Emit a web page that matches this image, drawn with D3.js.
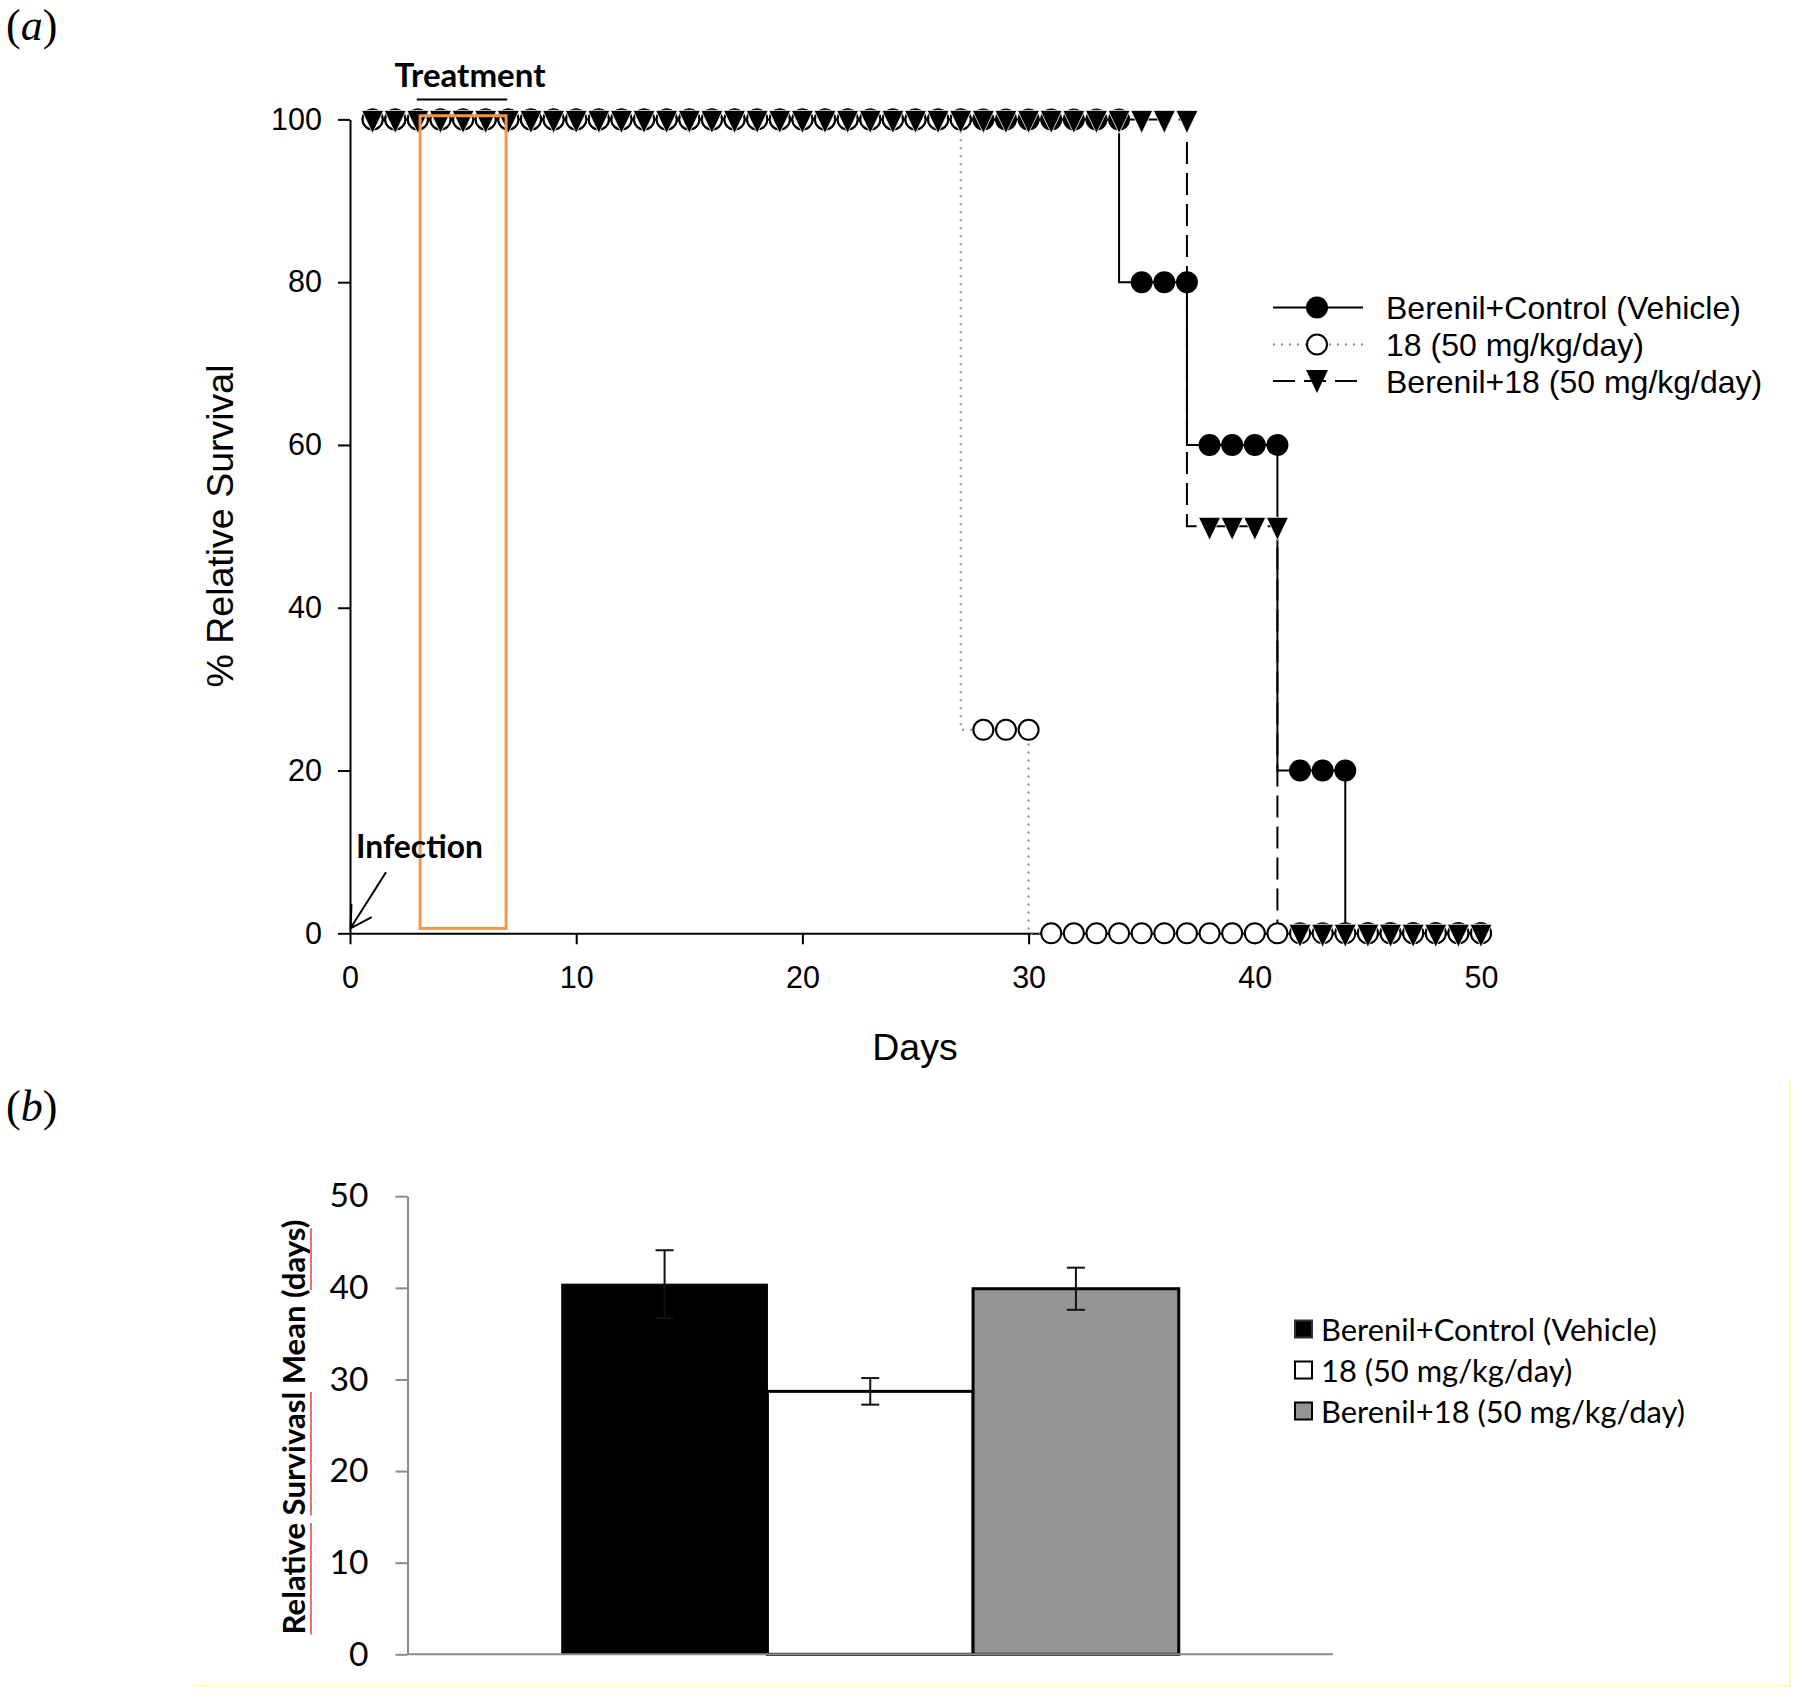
<!DOCTYPE html>
<html>
<head>
<meta charset="utf-8">
<script src="https://cdn.jsdelivr.net/npm/d3@7"></script>
<style>
  html, body { margin: 0; padding: 0; background: #ffffff; }
  svg { display: block; }
</style>
</head>
<body>
<svg id="chart" width="1800" height="1693"></svg>
<script>
// ---------------- DATA ----------------
const days = [1,2,3,4,5,6,7,8,9,10,11,12,13,14,15,16,17,18,19,20,21,22,23,24,25,
              26,27,28,29,30,31,32,33,34,35,36,37,38,39,40,41,42,43,44,45,46,47,48,49,50];

const seriesNames = ["Berenil+Control (Vehicle)", "18 (50 mg/kg/day)", "Berenil+18 (50 mg/kg/day)"];

// % relative survival at each day (panel a)
const vehicleSurvival = [100,100,100,100,100,100,100,100,100,100,100,100,100,100,100,100,100,100,100,100,
                         100,100,100,100,100,100,100,100,100,100,100,100,100,100,80,80,80,60,60,60,
                         60,20,20,20,0,0,0,0,0,0];
const cmpd18Survival  = [100,100,100,100,100,100,100,100,100,100,100,100,100,100,100,100,100,100,100,100,
                         100,100,100,100,100,100,100,25,25,25,0,0,0,0,0,0,0,0,0,0,
                         0,0,0,0,0,0,0,0,0,0];
const comboSurvival   = [100,100,100,100,100,100,100,100,100,100,100,100,100,100,100,100,100,100,100,100,
                         100,100,100,100,100,100,100,100,100,100,100,100,100,100,100,100,100,50,50,50,
                         50,0,0,0,0,0,0,0,0,0];

const survivalTicksX = [0, 10, 20, 30, 40, 50];
const survivalTicksY = [0, 20, 40, 60, 80, 100];
const treatmentWindow = [3.1, 6.9];   // days covered by the orange box

// panel b
const barGroups = seriesNames;
const barMeans  = [40.4, 28.7, 39.9];
const barErrors = [3.7, 1.45, 2.3];
const barTicksY = [0, 10, 20, 30, 40, 50];

// ---------------- CHART ----------------
const svg = d3.select("#chart");
const ARIAL = "'Liberation Sans', Arial, sans-serif";
const CALI = "Lato, 'Open Sans', sans-serif";
const SERIF = "'Liberation Serif', 'Times New Roman', serif";

function fitWidth(sel, target) {
  const w = sel.node().getComputedTextLength();
  const fs = parseFloat(sel.attr("font-size"));
  sel.attr("font-size", fs * target / w);
  return fs * target / w;
}

function panelLabel(letter, px, py) {
  const t = svg.append("text").attr("x", px).attr("y", py)
    .attr("font-family", SERIF).attr("font-size", 44).attr("fill", "#000");
  t.append("tspan").text("(");
  t.append("tspan").attr("font-style", "italic").text(letter);
  t.append("tspan").text(")");
}
panelLabel("a", 6, 40);
panelLabel("b", 6, 1121);

// ===== Panel (a) =====
const A = { left: 350, right: 1481, top: 119.4, bottom: 933.3 };
const x = d3.scaleLinear().domain([0, 50]).range([A.left, A.right]);
const y = d3.scaleLinear().domain([0, 100]).range([A.bottom, A.top]);
const gA = svg.append("g");

const gyA = gA.append("g").attr("transform", `translate(${A.left},0)`)
  .call(d3.axisLeft(y).tickValues(survivalTicksY).tickSize(12).tickSizeOuter(0).tickPadding(16));
const gxA = gA.append("g").attr("transform", `translate(0,${A.bottom})`)
  .call(d3.axisBottom(x).tickValues(survivalTicksX).tickSize(11).tickSizeOuter(0).tickPadding(22));
[gxA, gyA].forEach(g => {
  g.select(".domain").attr("stroke", "#000").attr("stroke-width", 2);
  g.selectAll(".tick line").attr("stroke", "#000").attr("stroke-width", 2);
  g.selectAll(".tick text").attr("font-family", ARIAL).attr("font-size", 30.5).attr("fill", "#000");
});

gA.append("text").attr("x", 915).attr("y", 1060).attr("text-anchor", "middle")
  .attr("font-family", ARIAL).attr("font-size", 37.5).attr("fill", "#000").text("Days");
gA.append("text").attr("transform", "translate(233,526) rotate(-90)").attr("text-anchor", "middle")
  .attr("font-family", ARIAL).attr("font-size", 37.5).attr("fill", "#000").text("% Relative Survival");

const series = [
  { name: seriesNames[0], values: vehicleSurvival, stroke: "#000", dash: null, width: 2 },
  { name: seriesNames[1], values: cmpd18Survival, stroke: "#8a8a8a", dash: "2,6", width: 2 },
  { name: seriesNames[2], values: comboSurvival, stroke: "#000", dash: "22,9", width: 2 }
];
const stepLine = d3.line().x(d => x(d[0])).y(d => y(d[1])).curve(d3.curveStepBefore);

// lines: dotted, dashed, solid
[1, 2, 0].forEach(i => {
  const s = series[i];
  gA.append("path")
    .attr("d", stepLine(days.map((d, k) => [d, s.values[k]])))
    .attr("fill", "none").attr("stroke", s.stroke).attr("stroke-width", s.width)
    .attr("stroke-dasharray", s.dash);
});

const triPath = "M-11,-9L11,-9L0,14Z";
const R = 11;
// filled circles
gA.append("g").selectAll("circle").data(days).join("circle")
  .attr("cx", d => x(d)).attr("cy", (d, k) => y(vehicleSurvival[k])).attr("r", R)
  .attr("fill", "#000");
// open circles
gA.append("g").selectAll("circle").data(days).join("circle")
  .attr("cx", d => x(d)).attr("cy", (d, k) => y(cmpd18Survival[k])).attr("r", R - 1)
  .attr("fill", "#fff").attr("stroke", "#000").attr("stroke-width", 2);
// triangles
gA.append("g").selectAll("path").data(days).join("path")
  .attr("transform", (d, k) => `translate(${x(d)},${y(comboSurvival[k])})`)
  .attr("d", triPath).attr("fill", "#000").attr("stroke", "#fff").attr("stroke-width", 0.8);

// treatment box
gA.append("rect")
  .attr("x", x(treatmentWindow[0])).attr("y", y(100.45))
  .attr("width", x(treatmentWindow[1]) - x(treatmentWindow[0]))
  .attr("height", y(0.6) - y(100.45))
  .attr("fill", "none").attr("stroke", "#F79646").attr("stroke-width", 3);

// treatment label
gA.append("line").attr("x1", x(2.95)).attr("x2", x(6.95)).attr("y1", A.top - 20).attr("y2", A.top - 20)
  .attr("stroke", "#000").attr("stroke-width", 2);
const tTreat = gA.append("text").attr("x", 470).attr("y", 87).attr("text-anchor", "middle")
  .attr("font-family", CALI).attr("font-weight", "bold").attr("font-size", 32).attr("fill", "#000")
  .text("Treatment");
fitWidth(tTreat, 151);

// infection label + arrow
const tInf = gA.append("text").attr("x", 356).attr("y", 858)
  .attr("font-family", CALI).attr("font-weight", "bold").attr("font-size", 32).attr("fill", "#000")
  .text("Infection");
fitWidth(tInf, 127);
{
  const tip = [x(0) + 0.5, A.bottom - 5];
  const tail = [x(0) + 36, A.bottom - 61];
  const ang = Math.atan2(tail[1] - tip[1], tail[0] - tip[0]);
  const L = 24, spread = Math.PI / 6;
  const w1 = [tip[0] + L * Math.cos(ang - spread), tip[1] + L * Math.sin(ang - spread)];
  const w2 = [tip[0] + L * Math.cos(ang + spread), tip[1] + L * Math.sin(ang + spread)];
  gA.append("path")
    .attr("d", `M${tail}L${tip}M${w1}L${tip}L${w2}`)
    .attr("fill", "none").attr("stroke", "#000").attr("stroke-width", 2);
}

// legend (a)
const legA = gA.append("g");
const legRowsA = [307.5, 344.5, 381];
series.forEach((s, i) => {
  const ry = legRowsA[i];
  legA.append("line").attr("x1", 1273).attr("x2", 1363).attr("y1", ry).attr("y2", ry)
    .attr("stroke", s.stroke).attr("stroke-width", s.width).attr("stroke-dasharray", s.dash);
  if (i === 0) legA.append("circle").attr("cx", 1317).attr("cy", ry).attr("r", R).attr("fill", "#000");
  if (i === 1) legA.append("circle").attr("cx", 1317).attr("cy", ry).attr("r", R - 1)
    .attr("fill", "#fff").attr("stroke", "#000").attr("stroke-width", 2);
  if (i === 2) legA.append("path").attr("transform", `translate(1317,${ry - 2})`).attr("d", triPath)
    .attr("fill", "#000");
  legA.append("text").attr("x", 1386).attr("y", ry + 11.5)
    .attr("font-family", ARIAL).attr("font-size", 32).attr("fill", "#000").text(s.name);
});

// ===== Panel (b) =====
const B = { left: 407.5, right: 1333, top: 1196.2, bottom: 1654.3 };
const yb = d3.scaleLinear().domain([0, 50]).range([B.bottom, B.top]);
const xOuter = d3.scaleBand().domain(["all"]).range([B.left, B.right]).paddingInner(0).paddingOuter(0.25);
const xb = d3.scaleBand().domain(barGroups)
  .range([xOuter("all"), xOuter("all") + xOuter.bandwidth()]).padding(0);
const barFill = ["#000000", "#ffffff", "#959595"];
const gB = svg.append("g");

const gyB = gB.append("g").attr("transform", `translate(${B.left},0)`)
  .call(d3.axisLeft(yb).tickValues(barTicksY).tickSize(12).tickSizeOuter(0).tickPadding(27));
gyB.select(".domain").attr("stroke", "#8a8a8a").attr("stroke-width", 2);
gyB.selectAll(".tick line").attr("stroke", "#8a8a8a").attr("stroke-width", 2);
const tickTexts = gyB.selectAll(".tick text").attr("font-family", CALI).attr("font-size", 34).attr("fill", "#000");
{
  const t50 = tickTexts.filter(d => d === 50);
  const fs = fitWidth(t50, 39);
  tickTexts.attr("font-size", fs);
}

// bars
gB.append("g").selectAll("rect").data(barGroups).join("rect")
  .attr("x", d => xb(d)).attr("y", (d, i) => yb(barMeans[i]))
  .attr("width", xb.bandwidth()).attr("height", (d, i) => yb(0) - yb(barMeans[i]))
  .attr("fill", (d, i) => barFill[i]).attr("stroke", "#000").attr("stroke-width", (d, i) => i === 0 ? 1 : 3);

// x axis line
gB.append("line").attr("x1", B.left).attr("x2", B.right).attr("y1", B.bottom).attr("y2", B.bottom)
  .attr("stroke", "#8a8a8a").attr("stroke-width", 2);

// error bars
const eb = gB.append("g").attr("stroke", "#111").attr("stroke-width", 2);
barGroups.forEach((g, i) => {
  const cx = xb(g) + xb.bandwidth() / 2;
  const y1 = yb(barMeans[i] + barErrors[i]), y2 = yb(barMeans[i] - barErrors[i]);
  eb.append("line").attr("x1", cx).attr("x2", cx).attr("y1", y1).attr("y2", y2);
  eb.append("line").attr("x1", cx - 9).attr("x2", cx + 9).attr("y1", y1).attr("y2", y1);
  eb.append("line").attr("x1", cx - 9).attr("x2", cx + 9).attr("y1", y2).attr("y2", y2);
});

// y title with spell-check underlines
{
  const gt = gB.append("g").attr("transform", "translate(305,1427) rotate(-90)");
  const title = gt.append("text").attr("x", 0).attr("y", 0).attr("text-anchor", "middle")
    .attr("font-family", CALI).attr("font-weight", "bold").attr("font-size", 32).attr("fill", "#000")
    .text("Relative Survivasl Mean (days)");
  fitWidth(title, 415);
  const node = title.node();
  [[0, 7], [9, 17], [25, 28]].forEach(([a, b]) => {
    const x1 = node.getStartPositionOfChar(a).x;
    const x2 = node.getEndPositionOfChar(b).x;
    gt.append("line").attr("x1", x1).attr("x2", x2).attr("y1", 6).attr("y2", 6)
      .attr("stroke", "#f07070").attr("stroke-width", 2);
  });
}

// legend (b)
{
  const rows = [1329, 1370, 1411];
  const leg = gB.append("g");
  let fs = 33;
  barGroups.forEach((g, i) => {
    leg.append("rect").attr("x", 1295).attr("y", rows[i] - 8.5).attr("width", 17).attr("height", 17)
      .attr("fill", barFill[i]).attr("stroke", i === 0 ? "#333" : "#000").attr("stroke-width", 2);
    const t = leg.append("text").attr("x", 1321).attr("y", rows[i] + 12)
      .attr("font-family", CALI).attr("font-size", fs).attr("fill", "#000").text(g);
    if (i === 0) fs = fitWidth(t, 336);
    else t.attr("font-size", fs);
  });
}

// faint yellow frame lines seen in the reference
svg.append("path").attr("d", "M193,1686L1790,1686L1790,1079")
  .attr("fill", "none").attr("stroke", "#fffbb8").attr("stroke-width", 2);
</script>
</body>
</html>
